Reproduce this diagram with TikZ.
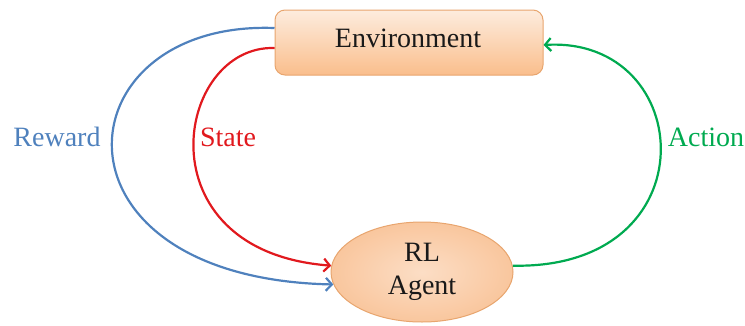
\documentclass[tikz,border=0pt]{standalone}
\usepackage{fontspec}
\setmainfont{Liberation Serif}
\usetikzlibrary{shapes.geometric,arrows.meta}
\definecolor{rwblue}{RGB}{79,129,189}
\definecolor{stred}{RGB}{225,25,30}
\definecolor{acgreen}{RGB}{0,170,80}
\definecolor{boxtop}{RGB}{253,236,222}
\definecolor{boxbot}{RGB}{250,190,140}
\definecolor{boxline}{RGB}{232,165,110}
\definecolor{agentfill}{RGB}{250,200,160}
\tikzset{
  lbl/.style={font=\fontsize{28}{32}\selectfont},
  envbox/.style={rectangle, rounded corners=10pt, minimum width=268pt, minimum height=65pt,
    top color=boxtop, bottom color=boxbot, draw=boxline, line width=1pt, text=black!90},
  agentbox/.style={ellipse, minimum width=182pt, minimum height=100pt, inner sep=0pt,
    inner color=boxtop!60!agentfill, outer color=agentfill!95!boxline, draw=boxline, line width=1pt,
    align=center, text=black!90, font=\fontsize{28}{33}\selectfont},
  conn/.style={line width=2.2pt, -{Straight Barb[length=6pt,width=13pt]}}
}
\begin{document}
\begin{tikzpicture}[x=1pt,y=-1pt]
\useasboundingbox (0,0) rectangle (745,325);
\node[envbox] (env) at (409,42.5) {};
\node[lbl, text=black!90] (envt) at (408,38) {Environment};
\node[agentbox] (agent) at (422,272) {RL\\Agent};
\draw[conn, rwblue] ([yshift=14.5pt]env.west) .. controls (60,20) and (37,278) .. (agent.188);
\draw[conn, stred] ([yshift=-5.5pt]env.west) .. controls (175,45) and (140,251) .. (agent.176);
\draw[conn, acgreen] (agent.4) .. controls (712,270) and (697,36) .. ([yshift=-2.5pt]env.east);
\node[lbl, text=rwblue] (rw) at (57,137) {Reward};
\node[lbl, text=stred] (st) at (228,137) {State};
\node[lbl, text=acgreen] (ac) at (706,137) {Action};
\end{tikzpicture}
\end{document}
